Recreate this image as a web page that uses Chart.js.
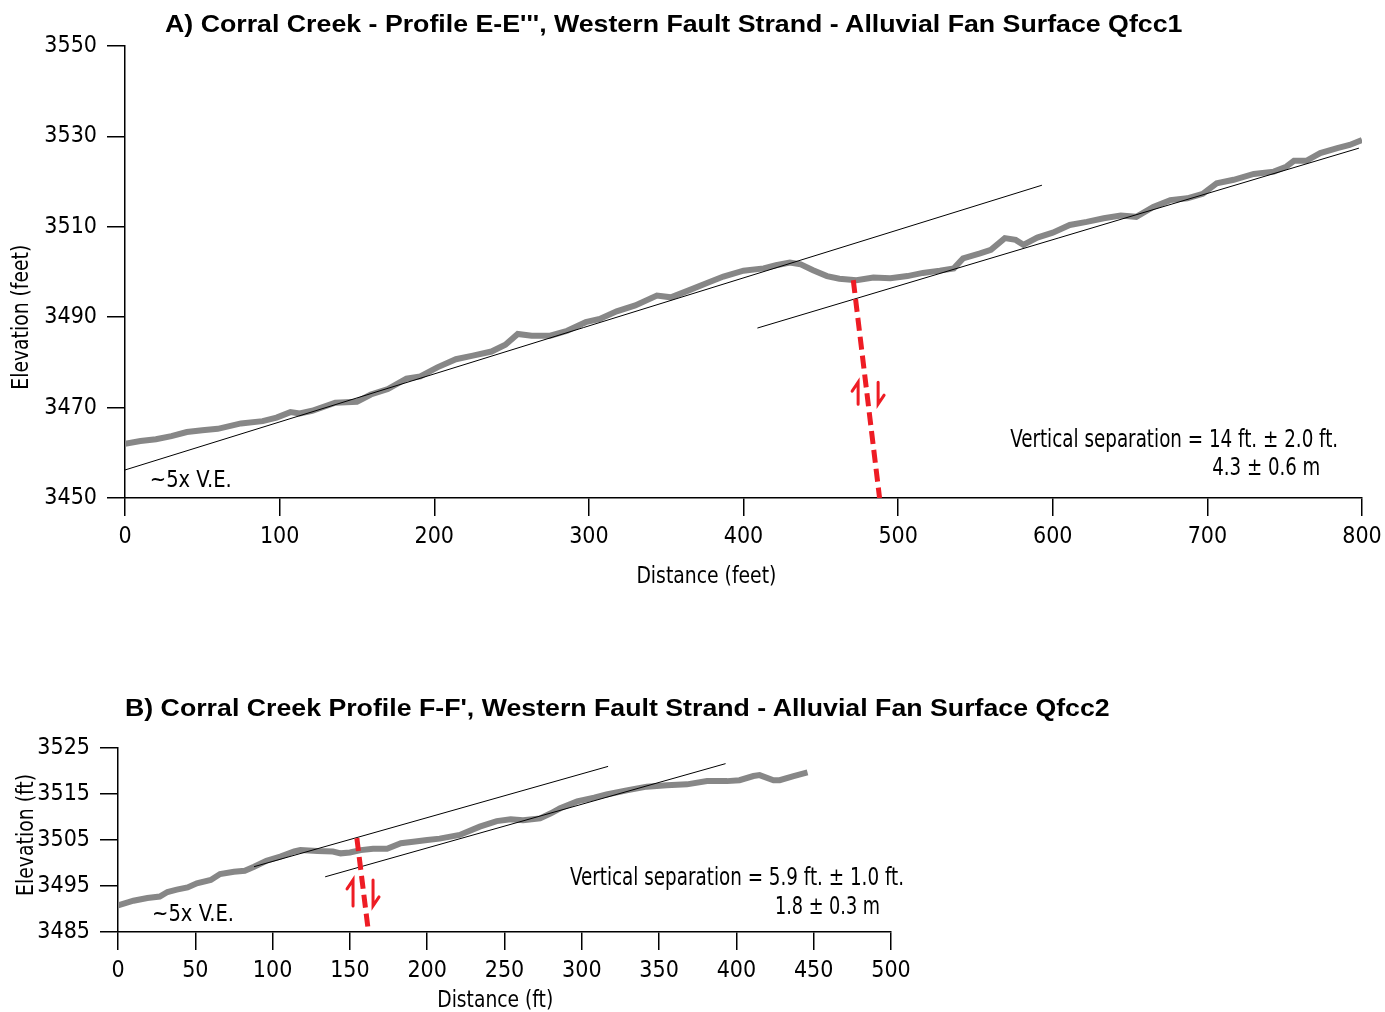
<!DOCTYPE html>
<html>
<head>
<meta charset="utf-8">
<script src="https://cdn.jsdelivr.net/npm/chart.js@4.4.1/dist/chart.umd.min.js"></script>
<style>
  html, body { margin: 0; padding: 0; background: #fff; }
  body { width: 1385px; height: 1012px; position: relative; overflow: hidden; }
  .wrap { position: absolute; left: 0; width: 1385px; }
  #wrapA { top: 0; height: 600px; }
  #wrapB { top: 640px; height: 372px; }
  .title { position: absolute; white-space: nowrap; font-family: 'Liberation Sans', Arial, sans-serif;
           font-weight: bold; color: #000; transform-origin: 0 50%; line-height: 1; }
</style>
</head>
<body>
<div class="wrap" id="wrapA"><canvas id="chartA" width="1385" height="600"></canvas></div>
<div class="wrap" id="wrapB"><canvas id="chartB" width="1385" height="372"></canvas></div>
<div class="title" id="titleA">A) Corral Creek - Profile E-E''', Western Fault Strand - Alluvial Fan Surface Qfcc1</div>
<div class="title" id="titleB">B) Corral Creek Profile F-F', Western Fault Strand - Alluvial Fan Surface Qfcc2</div>
<script>
(function () {
  'use strict';

  // --- profile A (E-E''') ---
  var distA = [0, 10, 20, 30, 40, 50, 60, 75, 89, 98, 107, 113, 121, 136, 150, 159, 170, 182, 191, 202,
    214, 225, 237, 246, 254, 263, 275, 286, 298, 307, 318, 330, 344, 353, 365, 376, 387, 400, 413, 421,
    430, 437, 445, 454, 462, 473, 484, 495, 506, 516, 527, 536, 542, 553, 560, 569, 576, 581, 590, 600,
    611, 622, 633, 644, 654, 665, 676, 687, 697, 706, 717, 730, 743, 751, 756, 764, 773, 784, 792, 800];
  var elevA = [3462.0, 3462.6, 3463.0, 3463.7, 3464.6, 3465.0, 3465.3, 3466.5, 3467.0, 3467.8, 3469.0, 3468.7,
    3469.3, 3471.1, 3471.3, 3472.9, 3474.1, 3476.4, 3476.9, 3478.9, 3480.7, 3481.5, 3482.4, 3483.9, 3486.3,
    3485.9, 3485.9, 3487.0, 3488.9, 3489.6, 3491.3, 3492.6, 3494.8, 3494.4, 3496.0, 3497.5, 3499.0, 3500.3,
    3500.8, 3501.5, 3502.1, 3501.7, 3500.4, 3499.1, 3498.5, 3498.2, 3498.8, 3498.6, 3499.1, 3499.8, 3500.3,
    3500.8, 3503.0, 3504.1, 3504.9, 3507.5, 3507.1, 3506.0, 3507.6, 3508.7, 3510.4, 3511.1, 3511.9, 3512.5,
    3512.2, 3514.4, 3515.9, 3516.3, 3517.3, 3519.6, 3520.4, 3521.7, 3522.2, 3523.3, 3524.6, 3524.6, 3526.3,
    3527.4, 3528.1, 3529.2];
  var upperA = [[0, 3456.2], [593, 3519.2]];
  var lowerA = [[409, 3487.6], [798, 3527.4]];
  var faultA = [[471, 3498.2], [488, 3450]];

  // --- profile B (F-F') ---
  var distB = [0, 10, 19, 27, 32, 38, 45, 51, 60, 66, 75, 82, 88, 96, 105, 114, 118, 129, 139, 144, 150,
    157, 165, 174, 183, 191, 200, 208, 221, 234, 245, 254, 262, 273, 280, 286, 297, 308, 316, 329, 342,
    355, 368, 381, 394, 402, 411, 415, 424, 428, 437, 446];
  var elevB = [3490.8, 3491.8, 3492.4, 3492.7, 3493.7, 3494.2, 3494.7, 3495.6, 3496.3, 3497.6, 3498.1,
    3498.3, 3499.2, 3500.5, 3501.4, 3502.5, 3502.8, 3502.6, 3502.5, 3502.1, 3502.3, 3502.8, 3503.1, 3503.1,
    3504.3, 3504.6, 3505.0, 3505.3, 3506.1, 3507.9, 3509.1, 3509.5, 3509.3, 3509.7, 3510.8, 3511.9, 3513.4,
    3514.2, 3514.9, 3515.8, 3516.6, 3516.9, 3517.1, 3517.8, 3517.8, 3518.0, 3518.9, 3519.1, 3518.0, 3518.0,
    3518.9, 3519.7];
  var upperB = [[88, 3499.2], [317, 3521.0]];
  var lowerB = [[134, 3497.0], [393, 3521.6]];
  var faultB = [[154.5, 3505.4], [162, 3485]];

  var narrow = "'DejaVu Sans Condensed', 'Liberation Sans', sans-serif";

  function pts(xs, ys) {
    return xs.map(function (x, i) { return { x: x, y: ys[i] }; });
  }
  function pairs(p) {
    return p.map(function (q) { return { x: q[0], y: q[1] }; });
  }

  function line(data, color, width, dash) {
    return {
      data: data,
      showLine: true,
      borderColor: color,
      borderWidth: width,
      borderDash: dash || [],
      pointRadius: 0,
      fill: false,
      tension: 0
    };
  }

  // text notes and the little slip arrows beside the fault
  function notes(items, arrows) {
    return {
      id: 'notes',
      afterDatasetsDraw: function (chart) {
        var ctx = chart.ctx, xs = chart.scales.x, ys = chart.scales.y;
        items.forEach(function (n) {
          ctx.save();
          ctx.translate(xs.getPixelForValue(n.x) + (n.dx || 0), ys.getPixelForValue(n.y) + (n.dy || 0));
          if (n.rotate) ctx.rotate(n.rotate);
          ctx.font = (n.size || 23) + 'px ' + narrow;
          ctx.fillStyle = '#000';
          ctx.textAlign = n.align || 'left';
          ctx.textBaseline = 'middle';
          if (n.w) ctx.fillText(n.text, 0, 0, n.w);
          else ctx.fillText(n.text, 0, 0);
          ctx.restore();
        });
        arrows.forEach(function (a) {
          var cx = xs.getPixelForValue(a.x), cy = ys.getPixelForValue(a.y), h = a.h / 2;
          ctx.save();
          ctx.strokeStyle = '#ee1c24';
          ctx.lineWidth = 3;
          ctx.lineCap = 'round';
          ctx.beginPath();
          // up arrow on the left
          ctx.moveTo(cx - 10, cy + h);
          ctx.lineTo(cx - 10, cy - h);
          ctx.lineTo(cx - 16, cy - h + 9);
          // down arrow on the right
          ctx.moveTo(cx + 10, cy - h);
          ctx.lineTo(cx + 10, cy + h);
          ctx.lineTo(cx + 16, cy + h - 9);
          ctx.stroke();
          ctx.restore();
        });
      }
    };
  }

  function axes(xMax, xStep, yMin, yMax, yStep, yWidth, xHeight) {
    var tickFont = { family: narrow, size: 23 };
    var plain = function (v) { return String(v); };
    return {
      x: {
        type: 'linear', min: 0, max: xMax,
        afterFit: function (s) { s.height = xHeight; s.paddingLeft = 0; s.paddingRight = 0; },
        ticks: { stepSize: xStep, color: '#000', font: tickFont, padding: 7, maxRotation: 0, autoSkip: false, callback: plain },
        grid: { drawOnChartArea: false, drawTicks: true, tickLength: 18, color: '#000', lineWidth: 1.5 },
        border: { display: true, color: '#000', width: 1.5 }
      },
      y: {
        type: 'linear', min: yMin, max: yMax,
        afterFit: function (s) { s.width = yWidth; s.paddingTop = 0; s.paddingBottom = 0; },
        ticks: { stepSize: yStep, color: '#000', font: tickFont, padding: 10, callback: plain },
        grid: { drawOnChartArea: false, drawTicks: true, tickLength: 18, color: '#000', lineWidth: 1.5 },
        border: { display: true, color: '#000', width: 1.5 }
      }
    };
  }

  function makeChart(id, sets, scales, padding, plugin) {
    return new Chart(document.getElementById(id).getContext('2d'), {
      type: 'scatter',
      data: { datasets: sets },
      options: {
        responsive: false,
        animation: false,
        layout: { padding: padding },
        plugins: { legend: { display: false }, tooltip: { enabled: false }, title: { display: false } },
        scales: scales
      },
      plugins: [plugin]
    });
  }

  makeChart('chartA', [
    line(pairs(faultA), '#ee1c24', 5, [13, 6]),
    line(pairs(upperA), '#000', 1),
    line(pairs(lowerA), '#000', 1),
    line(pts(distA, elevA), '#878787', 6)
  ], axes(800, 100, 3450, 3550, 20, 125, 102), { left: 0, top: 46, right: 23, bottom: 0 },
  notes([
    { text: '~5x V.E.', x: 16, y: 3453.8, w: 82 },
    { text: 'Vertical separation = 14 ft. \u00b1 2.0 ft.', x: 784.6, y: 3462.6, align: 'right', size: 24, w: 328 },
    { text: '4.3 \u00b1 0.6 m', x: 773, y: 3456.4, align: 'right', size: 24, w: 108 },
    { text: 'Distance (feet)', x: 376, y: 3450, dy: 79, align: 'center', w: 140 },
    { text: 'Elevation (feet)', x: 0, y: 3490, dx: -103, align: 'center', rotate: -Math.PI / 2, w: 145 }
  ], [{ x: 480.6, y: 3473.2, h: 22 }]));

  makeChart('chartB', [
    line(pairs(faultB), '#ee1c24', 5, [13, 6]),
    line(pairs(upperB), '#000', 1),
    line(pairs(lowerB), '#000', 1),
    line(pts(distB, elevB), '#878787', 6)
  ], axes(500, 50, 3485, 3525, 10, 118, 80), { left: 0, top: 108, right: 494, bottom: 0 },
  notes([
    { text: '~5x V.E.', x: 22, y: 3488.7, w: 82 },
    { text: 'Vertical separation = 5.9 ft. \u00b1 1.0 ft.', x: 508.4, y: 3496.5, align: 'right', size: 24, w: 334 },
    { text: '1.8 \u00b1 0.3 m', x: 492.9, y: 3490.2, align: 'right', size: 24, w: 105 },
    { text: 'Distance (ft)', x: 244, y: 3485, dy: 69, align: 'center', w: 116 },
    { text: 'Elevation (ft)', x: 0, y: 3506.1, dx: -91, align: 'center', rotate: -Math.PI / 2, w: 122 }
  ], [{ x: 158.5, y: 3493.5, h: 26 }]));

  // fit the titles to the width they take in the figure
  function placeTitle(id, left, midY, width, size) {
    var el = document.getElementById(id);
    el.style.fontSize = size + 'px';
    el.style.left = left + 'px';
    el.style.top = (midY - size / 2) + 'px';
    el.style.transform = 'scaleX(' + (width / el.offsetWidth) + ')';
  }
  placeTitle('titleA', 165, 24, 1017, 24);
  placeTitle('titleB', 125, 708, 985, 23);
}());
</script>
</body>
</html>
